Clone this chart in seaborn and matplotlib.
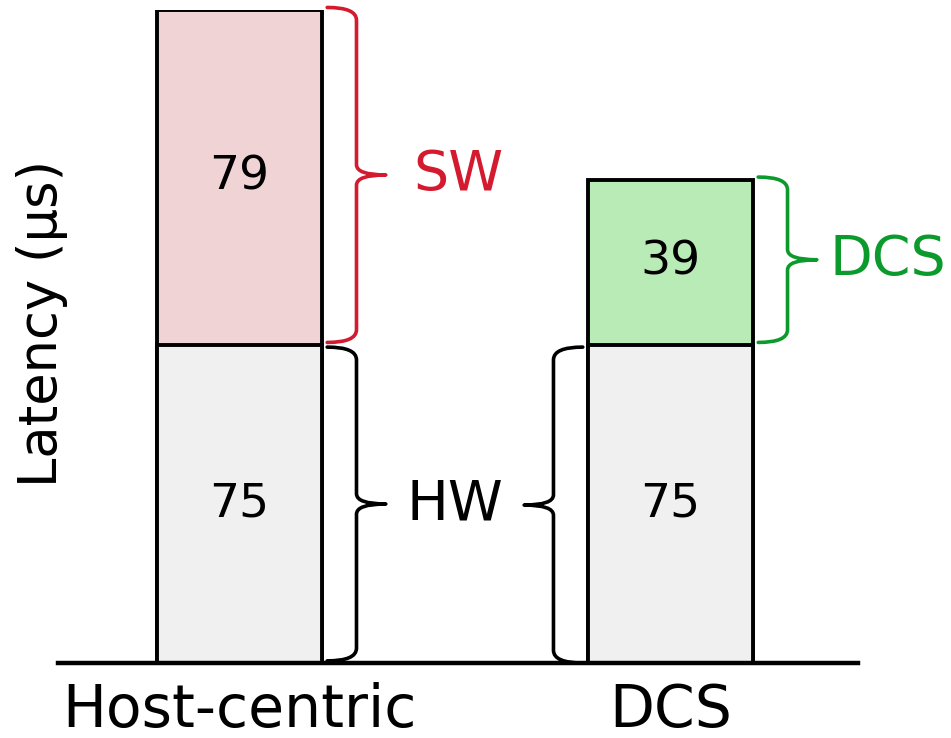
import pandas as pd
import matplotlib.pyplot as plt
import seaborn as sns
from matplotlib.path import Path
from matplotlib.patches import PathPatch

# values (latency in microseconds)
systems = ['Host-centric', 'DCS']
hw_latency = [75, 75]
sw_latency = [79, 39]
segment_labels = ['SW', 'DCS']
top_colors = ['#f0d3d5', '#b8ebb5']
brace_colors = ['#d41a2e', '#0c9a2c']
hw_color = '#f0f0f0'

df = pd.DataFrame({'system': systems, 'hw': hw_latency, 'sw': sw_latency})
df['total'] = df['hw'] + df['sw']

sns.set_theme(style='white')
plt.rcParams['font.family'] = ['DejaVu Sans']
plt.rcParams['text.color'] = 'black'
plt.rcParams['axes.labelcolor'] = 'black'
plt.rcParams['xtick.color'] = 'black'

fig = plt.figure(figsize=(9.51, 7.38), dpi=100)
ax = fig.add_axes([58 / 951, 75 / 738, 800 / 951, 653 / 738])

BAR_W = 0.383
sns.barplot(data=df, x='system', y='total', hue='system', palette=top_colors, saturation=1,
            width=BAR_W, edgecolor='black', linewidth=2.8, legend=False, ax=ax)
sns.barplot(data=df, x='system', y='hw', color=hw_color, saturation=1,
            width=BAR_W, edgecolor='black', linewidth=2.8, ax=ax)

ax.set_xlim(-0.421, 1.435)
ax.set_ylim(0, 154)

# value labels in the middle of each segment
for i, row in df.iterrows():
    ax.text(i, row['hw'] / 2, str(row['hw']), ha='center', va='center', fontsize=34)
    ax.text(i, row['hw'] + row['sw'] / 2, str(row['sw']), ha='center', va='center', fontsize=34)


def brace(ax, x_edge, y0, y1, direction, color, d=0.068, r=3.0, lw=2.6):
    # curly brace next to a bar segment, direction=+1 points right, -1 left
    x0 = x_edge
    x1 = x0 + direction * d
    x2 = x1 + direction * d
    ym = (y0 + y1) / 2
    verts = [(x0, y1), (x1, y1), (x1, y1 - r),
             (x1, ym + r * 0.8), (x1, ym), (x2, ym),
             (x1, ym), (x1, ym - r * 0.8),
             (x1, y0 + r), (x1, y0), (x0, y0)]
    codes = [Path.MOVETO, Path.CURVE3, Path.CURVE3,
             Path.LINETO, Path.CURVE3, Path.CURVE3,
             Path.CURVE3, Path.CURVE3,
             Path.LINETO, Path.CURVE3, Path.CURVE3]
    ax.add_patch(PathPatch(Path(verts, codes), fill=False, edgecolor=color,
                           lw=lw, capstyle='round', joinstyle='round', clip_on=False))
    return x2, ym


gap = 0.012
half = BAR_W / 2
# top segments (SW / DCS) on the right
for i, row in df.iterrows():
    tip_x, tip_y = brace(ax, i + half + gap, row['hw'] + 0.6, row['total'] + 0.6,
                         1, brace_colors[i])
    off = 0.065 if i == 0 else 0.03
    ax.text(tip_x + off, tip_y, segment_labels[i], color=brace_colors[i],
            ha='left', va='center', fontsize=40)

# HW braces facing each other
tl, yl = brace(ax, 0 + half + gap, 0.5, hw_latency[0] - 0.5, 1, 'black')
tr, yr = brace(ax, 1 - half - gap, 0.0, hw_latency[1] - 0.5, -1, 'black')
ax.text((tl + tr) / 2, (yl + yr) / 2, 'HW', ha='center', va='center', fontsize=40)

sns.despine(ax=ax, left=True)
ax.spines['bottom'].set_linewidth(3.2)
ax.spines['bottom'].set_color('black')
ax.set_yticks([])
ax.tick_params(axis='x', length=0, labelsize=42, pad=14)
ax.set_xlabel('')
ax.set_ylabel('Latency (µs)', fontsize=38)
ax.yaxis.set_label_coords(0.012, 0.52)

fig.savefig('out.png', dpi=100)
